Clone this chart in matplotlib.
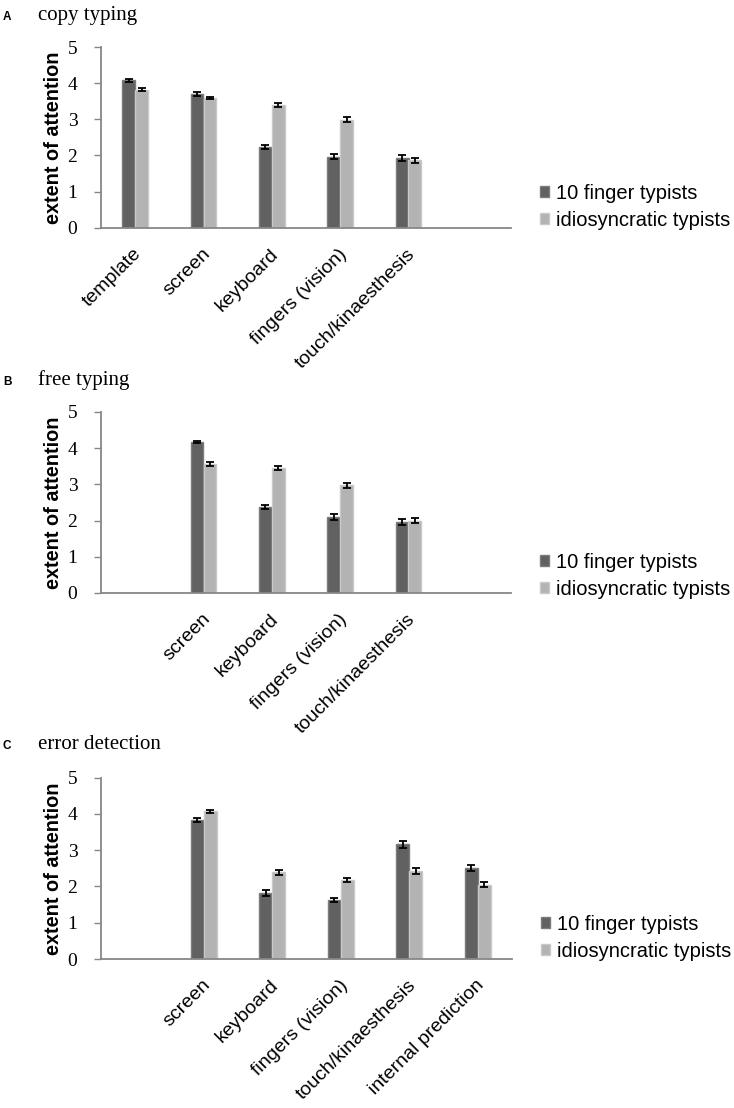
import numpy as np
import matplotlib
matplotlib.use("Agg")
import matplotlib.pyplot as plt
from matplotlib.transforms import ScaledTranslation

nan = np.nan

# ---- data ----
series_names = ["10 finger typists", "idiosyncratic typists"]

titles = ["copy typing", "free typing", "error detection"]
letters = ["A", "B", "C"]

cats_A = ["template", "screen", "keyboard", "fingers (vision)", "touch/kinaesthesis", ""]
ten_A = [4.08, 3.70, 2.23, 1.97, 1.92, nan]
idio_A = [3.82, 3.59, 3.40, 2.99, 1.86, nan]
ten_A_err = [0.04, 0.05, 0.06, 0.06, 0.08, nan]
idio_A_err = [0.04, 0.04, 0.06, 0.06, 0.07, nan]

cats_B = ["", "screen", "keyboard", "fingers (vision)", "touch/kinaesthesis", ""]
ten_B = [nan, 4.17, 2.37, 2.10, 1.96, nan]
idio_B = [nan, 3.57, 3.46, 2.98, 1.99, nan]
ten_B_err = [nan, 0.04, 0.06, 0.07, 0.08, nan]
idio_B_err = [nan, 0.05, 0.06, 0.07, 0.07, nan]

cats_C = ["", "screen", "keyboard", "fingers (vision)", "touch/kinaesthesis", "internal prediction"]
ten_C = [nan, 3.84, 1.82, 1.63, 3.16, 2.51]
idio_C = [nan, 4.07, 2.39, 2.17, 2.43, 2.05]
ten_C_err = [nan, 0.05, 0.07, 0.06, 0.09, 0.08]
idio_C_err = [nan, 0.04, 0.07, 0.06, 0.08, 0.06]

yticks = [0, 1, 2, 3, 4, 5]
ylabel = "extent of attention"

panels = [
    (cats_A, ten_A, idio_A, ten_A_err, idio_A_err),
    (cats_B, ten_B, idio_B, ten_B_err, idio_B_err),
    (cats_C, ten_C, idio_C, ten_C_err, idio_C_err),
]

# ---- style ----
W, H = 734, 1108
DPI = 100
fig = plt.figure(figsize=(W / DPI, H / DPI), dpi=DPI)

dark = "#616161"
light = "#b3b3b3"
dark_edge = "#7c7c7c"
light_edge = "#c9c9c9"
axis_col = "#878787"

sans = ["Liberation Sans", "DejaVu Sans"]
serif = ["Liberation Serif", "DejaVu Serif"]

# axes geometry in pixels (left, right, y of 0, y of 5)
geom = [(101, 511, 227.7, 47.0), (101, 511, 593.0, 412.0), (101, 512, 959.0, 777.7)]
title_base = [20, 385, 749]
legend_y = [0.117, 0.094, 0.116]

bw = 0.19
for i, (cats, s1, s2, e1, e2) in enumerate(panels):
    l, r, y0, y5 = geom[i]
    ax = fig.add_axes([l / W, 1 - y0 / H, (r - l) / W, (y0 - y5) / H])
    x = np.arange(len(cats))
    ax.bar(x - bw / 2, s1, bw, color=dark, edgecolor=dark_edge, linewidth=1.0,
           label=series_names[0], zorder=2)
    ax.bar(x + bw / 2, s2, bw, color=light, edgecolor=light_edge, linewidth=1.0,
           label=series_names[1], zorder=2)
    ax.errorbar(x - bw / 2, s1, yerr=e1, fmt="none", ecolor="black",
                elinewidth=1.3, capsize=3.2, capthick=1.3, zorder=3)
    ax.errorbar(x + bw / 2, s2, yerr=e2, fmt="none", ecolor="black",
                elinewidth=1.3, capsize=3.2, capthick=1.3, zorder=3)
    ax.set_xlim(-0.5, len(cats) - 0.5)
    ax.set_ylim(0, 5)
    ax.set_yticks(yticks)
    ax.set_yticklabels([str(t) for t in yticks], family=serif, fontsize=14)
    ax.tick_params(axis="y", length=5, width=1.0, color=axis_col, pad=12)
    ax.set_xticks(x)
    ax.set_xticklabels(cats, rotation=45, ha="right", va="center",
                       rotation_mode="anchor", family=sans, fontsize=14)
    ax.tick_params(axis="x", length=0, pad=17)
    off = ScaledTranslation(4 / DPI, 0, fig.dpi_scale_trans)
    for lab in ax.get_xticklabels():
        lab.set_transform(lab.get_transform() + off)
    for s in ["top", "right"]:
        ax.spines[s].set_visible(False)
    for s in ["left", "bottom"]:
        ax.spines[s].set_color(axis_col)
        ax.spines[s].set_linewidth(1.3)
    ax.set_ylabel(ylabel, family=sans, fontsize=14.3, fontweight="bold", labelpad=3)
    ax.legend(loc="center left", bbox_to_anchor=(1.07, legend_y[i]), frameon=False,
              borderpad=0, borderaxespad=0, handlelength=0.45, handleheight=0.45,
              handletextpad=0.35, labelspacing=0.4, prop={"family": sans, "size": 14.5})
    fig.text(3 / W, 1 - title_base[i] / H, letters[i], family=sans, fontweight="bold",
             fontsize=8.5, va="baseline", ha="left")
    fig.text(38 / W, 1 - title_base[i] / H, titles[i], family=serif,
             fontsize=15, va="baseline", ha="left")

fig.savefig("out.png", dpi=DPI)
